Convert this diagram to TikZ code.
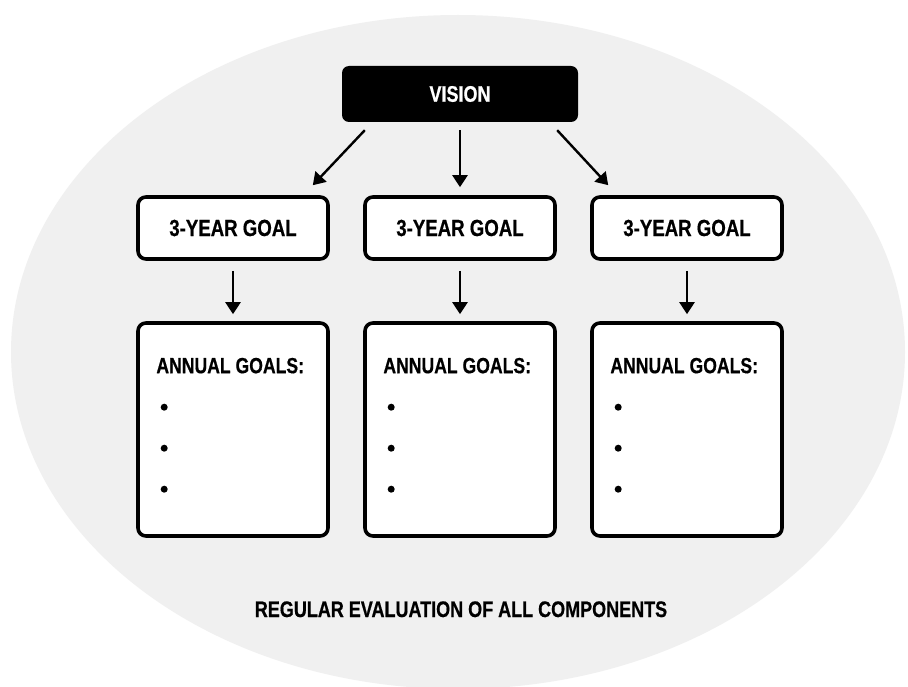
\documentclass[tikz,border=0pt]{standalone}
\usepackage{fontspec}
\setmainfont{Liberation Sans}[FakeStretch=0.8,FakeBold=0.6]
\usetikzlibrary{arrows.meta,calc}
\definecolor{bggray}{RGB}{240,240,240}
\tikzset{
  goalbox/.style={draw=black, line width=3.6pt, rounded corners=8pt, fill=white,
    minimum width=190pt, minimum height=62pt, inner sep=0pt, font=\fontsize{23.3}{25}\selectfont\bfseries},
  annualbox/.style={draw=black, line width=3.6pt, rounded corners=8pt, fill=white,
    minimum width=190pt, minimum height=213pt, inner sep=0pt},
  visionbox/.style={fill=black, rounded corners=7pt, minimum width=236pt, minimum height=56pt,
    inner sep=0pt, text=white, font=\fontsize{22.5}{24}\selectfont\bfseries},
  arr/.style={line width=2.4pt, -{Triangle[width=15pt,length=12pt]}},
  lbl/.style={anchor=base west, inner sep=0pt, font=\fontsize{22}{24}\selectfont\bfseries},
  bul/.style={circle, fill=black, inner sep=0pt, minimum size=7pt}
}
\begin{document}
\begin{tikzpicture}[x=1pt,y=-1pt]
\useasboundingbox (0,0) rectangle (908,687);
\fill[white] (0,0) rectangle (908,687);
\fill[bggray] (458,352) ellipse [x radius=447pt, y radius=337pt];

\node[visionbox] (vision) at (460,94) {VISION};

\node[goalbox] (g1) at (233,228) {3-YEAR GOAL};
\node[goalbox] (g2) at (460,228) {3-YEAR GOAL};
\node[goalbox] (g3) at (687,228) {3-YEAR GOAL};

\draw[arr] ([xshift=23pt,yshift=-8pt]vision.south west) -- ([xshift=-17pt,yshift=10pt]g1.north east);
\draw[arr] ([yshift=-8pt]vision.south) -- ([yshift=8pt]g2.north);
\draw[arr] ([xshift=-21pt,yshift=-8pt]vision.south east) -- ([xshift=18pt,yshift=10pt]g3.north west);

\foreach \i/\x in {1/233,2/460,3/687}{
  \node[annualbox] (a\i) at (\x,429.5) {};
  \draw[arr] ([yshift=-10pt]g\i.south) -- ([yshift=7pt]a\i.north);
  \node[lbl] (t\i) at ([xshift=20pt,yshift=-52pt]a\i.north west) {ANNUAL GOALS:};
  \node[bul] (b\i a) at ([xshift=28pt,yshift=-86pt]a\i.north west) {};
  \node[bul] (b\i b) at ([xshift=28pt,yshift=-127pt]a\i.north west) {};
  \node[bul] (b\i c) at ([xshift=28pt,yshift=-168pt]a\i.north west) {};
}

\node[anchor=base, inner sep=0pt, font=\fontsize{22.5}{24}\selectfont\bfseries] (eval) at (461,617) {REGULAR EVALUATION OF ALL COMPONENTS};
\end{tikzpicture}
\end{document}
